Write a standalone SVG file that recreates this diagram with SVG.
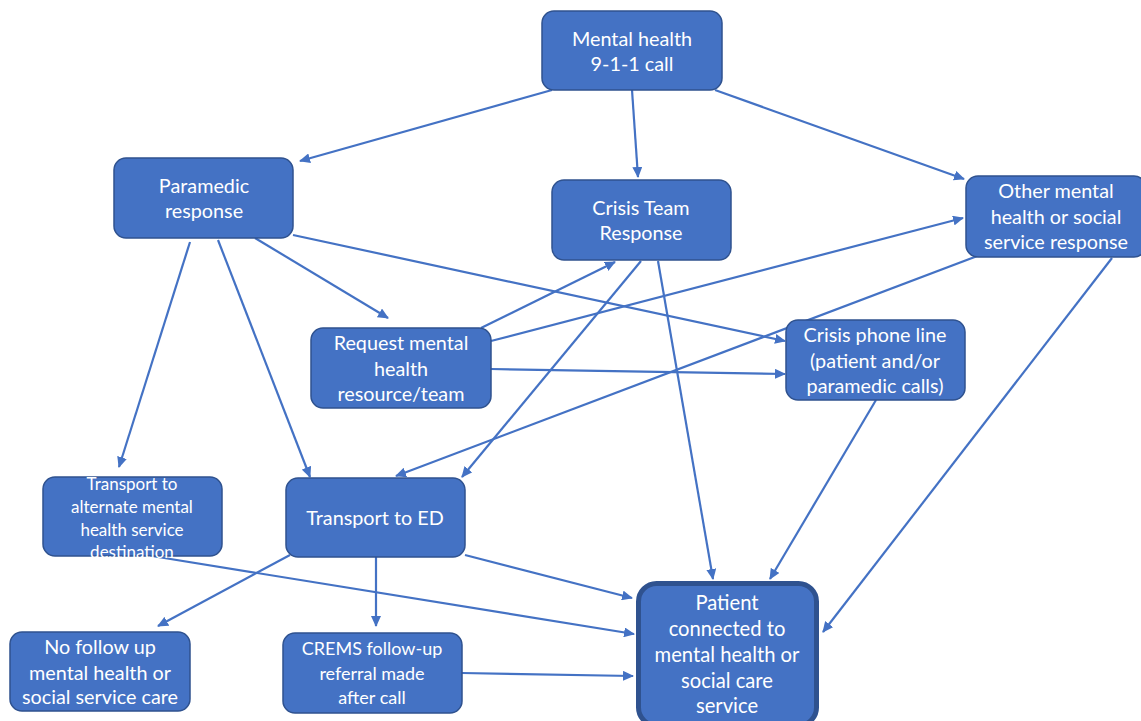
<svg xmlns="http://www.w3.org/2000/svg" width="1141" height="721" viewBox="0 0 1141 721">
<defs>
<marker id="ah" markerUnits="userSpaceOnUse" markerWidth="12" markerHeight="10" refX="10" refY="5" orient="auto">
<path d="M0,0 L11,5 L0,10 Z" fill="#4472C4"/>
</marker>
<style>
.n rect{fill:#4472C4;stroke:#2F528F;stroke-width:1.5}
.n text{fill:#fff;font-family:Lato,"Open Sans","Liberation Sans",sans-serif;font-size:19.8px;text-anchor:middle}
#conn line{stroke:#4472C4;stroke-width:2.2;marker-end:url(#ah)}
</style>
</defs>
<rect width="1141" height="721" fill="#fff"/>
<g id="conn">
<line x1="552" y1="90" x2="300" y2="161"/>
<line x1="632" y1="90" x2="638" y2="177"/>
<line x1="715" y1="90" x2="964" y2="179"/>
<line x1="255" y1="238" x2="388" y2="318"/>
<line x1="293" y1="235" x2="785" y2="341"/>
<line x1="190" y1="242" x2="119" y2="467"/>
<line x1="218" y1="240" x2="310" y2="477"/>
<line x1="481" y1="328" x2="615" y2="262"/>
<line x1="491" y1="341" x2="963" y2="218"/>
<line x1="491" y1="369" x2="785" y2="374"/>
<line x1="641" y1="261" x2="462" y2="477"/>
<line x1="658" y1="261" x2="713" y2="579"/>
<line x1="980" y1="255" x2="396" y2="476"/>
<line x1="1112" y1="258" x2="823" y2="632"/>
<line x1="876" y1="400" x2="770" y2="579"/>
<line x1="152" y1="556" x2="634" y2="634"/>
<line x1="465" y1="555" x2="632" y2="598"/>
<line x1="290" y1="555" x2="158" y2="626"/>
<line x1="376" y1="557" x2="376" y2="626"/>
<line x1="462" y1="673" x2="633" y2="676"/>
</g>
<g id="n-call" class="n"><rect x="542" y="11" width="180" height="79" rx="12"/><text x="632" y="46">Mental health</text><text x="632" y="71">9-1-1 call</text></g>
<g id="n-paramedic" class="n"><rect x="114" y="158" width="179" height="80" rx="12"/><text x="204" y="193">Paramedic</text><text x="204" y="218">response</text></g>
<g id="n-crisis" class="n"><rect x="552" y="180" width="179" height="80" rx="12"/><text x="641" y="215">Crisis Team</text><text x="641" y="240">Response</text></g>
<g id="n-other" class="n"><rect x="966" y="176" width="180" height="81" rx="12"/><text x="1056" y="198">Other mental</text><text x="1056" y="224">health or social</text><text x="1056" y="249">service response</text></g>
<g id="n-request" class="n"><rect x="311" y="328" width="180" height="80" rx="12"/><text x="401" y="350">Request mental</text><text x="401" y="376">health</text><text x="401" y="401">resource/team</text></g>
<g id="n-phone" class="n"><rect x="786" y="320" width="179" height="80" rx="12"/><text x="875" y="342">Crisis phone line</text><text x="875" y="368">(patient and/or</text><text x="875" y="393">paramedic calls)</text></g>
<g id="n-alt" class="n"><rect x="43" y="477" width="179" height="79" rx="12"/><text x="132" y="490" style="font-size:17px">Transport to</text><text x="132" y="513" style="font-size:17px">alternate mental</text><text x="132" y="536" style="font-size:17px">health service</text><text x="132" y="558" style="font-size:17px">destination</text></g>
<g id="n-ed" class="n"><rect x="286" y="478" width="179" height="79" rx="12"/><text x="375" y="525">Transport to ED</text></g>
<g id="n-patient" class="n"><rect x="638.5" y="583.5" width="178" height="142" rx="18" style="stroke-width:5"/><text x="727" y="610" style="font-size:20.2px">Patient</text><text x="727" y="636" style="font-size:20.2px">connected to</text><text x="727" y="662" style="font-size:20.2px">mental health or</text><text x="727" y="688" style="font-size:20.2px">social care</text><text x="727" y="713" style="font-size:20.2px">service</text></g>
<g id="n-nofollow" class="n"><rect x="10" y="632" width="180" height="79" rx="12"/><text x="100" y="654">No follow up</text><text x="100" y="680">mental health or</text><text x="100" y="704">social service care</text></g>
<g id="n-crems" class="n"><rect x="283" y="633" width="179" height="80" rx="12"/><text x="372" y="655" style="font-size:18px">CREMS follow-up</text><text x="372" y="680" style="font-size:18px">referral made</text><text x="372" y="704" style="font-size:18px">after call</text></g>
</svg>
